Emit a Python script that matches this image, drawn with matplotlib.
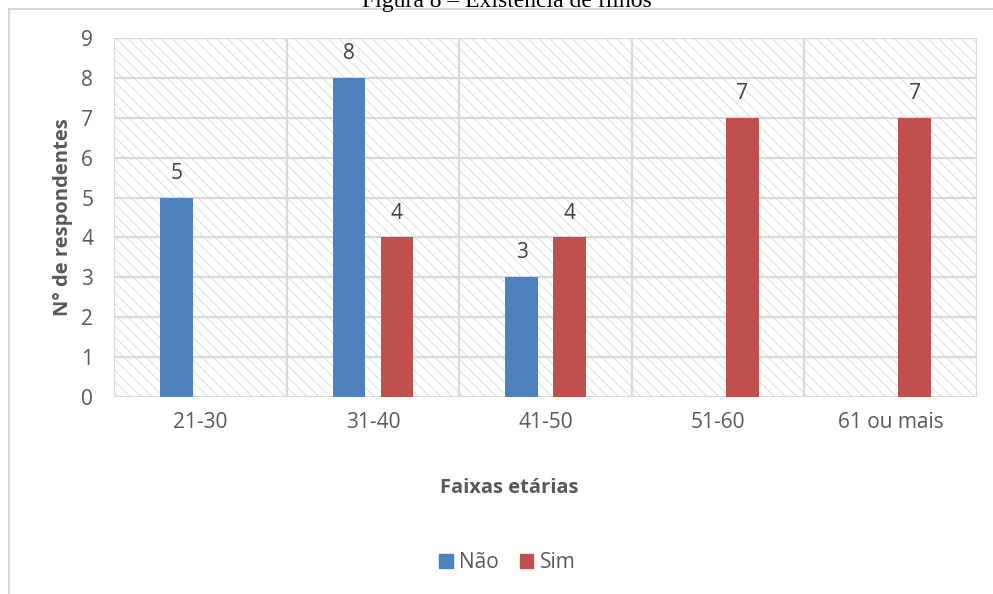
import matplotlib.pyplot as plt
import numpy as np
from matplotlib.patches import Rectangle
from matplotlib.lines import Line2D

faixas = ["21-30", "31-40", "41-50", "51-60", "61 ou mais"]
nao = [5, 8, 3, 0, 0]
sim = [0, 4, 4, 7, 7]

azul = "#4F81BD"
vermelho = "#C0504D"
cinza = "#595959"

plt.rcParams["font.family"] = ["Open Sans", "DejaVu Sans"]
plt.rcParams["hatch.linewidth"] = 0.6

fig = plt.figure(figsize=(9.93, 5.94), dpi=100)
ax = fig.add_axes([0.1148, 0.3316, 0.8692, 0.6044])

# fundo hachurado
ax.add_patch(Rectangle((0, 0), 1, 1, transform=ax.transAxes, facecolor="white",
                       edgecolor="#d8d8d8", linewidth=0, hatch="\\\\\\", zorder=0))

x = np.arange(len(faixas))
larg = 0.19
desl = 0.139
for i in x:
    if nao[i] > 0:
        ax.bar(i - desl, nao[i], larg, color=azul, zorder=3)
        ax.text(i - desl, nao[i] + 0.35, str(nao[i]), ha="center", va="bottom",
                fontsize=15, color="#404040")
    if sim[i] > 0:
        ax.bar(i + desl, sim[i], larg, color=vermelho, zorder=3)
        ax.text(i + desl, sim[i] + 0.35, str(sim[i]), ha="center", va="bottom",
                fontsize=15, color="#404040")

ax.set_xlim(-0.5, len(faixas) - 0.5)
ax.set_ylim(0, 9)
ax.set_yticks(range(10))
ax.set_xticks(x)
ax.set_xticklabels(faixas)
ax.tick_params(length=0, labelsize=15, colors=cinza)
ax.tick_params(axis="y", pad=15)
ax.tick_params(axis="x", pad=11)

# grade
for y in range(10):
    ax.axhline(y, color="#d9d9d9", lw=1.6, zorder=1)
for xb in np.arange(-0.5, len(faixas), 1):
    ax.axvline(xb, color="#d9d9d9", lw=1.6, zorder=1)
for s in ax.spines.values():
    s.set_visible(False)

ax.set_ylabel("N° de respondentes", fontsize=14.5, fontweight="bold", color=cinza, labelpad=6)
fig.text(0.513, 1 - 488 / 594, "Faixas etárias", ha="center", va="center",
         fontsize=14.5, fontweight="bold", color=cinza)

# legenda
h = [Rectangle((0, 0), 1, 1, color=azul), Rectangle((0, 0), 1, 1, color=vermelho)]
fig.legend(h, ["Não", "Sim"], loc="center", bbox_to_anchor=(0.511, 1 - 563 / 594),
           ncol=2, frameon=False, fontsize=15, handlelength=0.65, handleheight=0.65,
           handletextpad=0.3, columnspacing=1.0, labelcolor=cinza)

# moldura do gráfico
fig.add_artist(Line2D([9 / 993, 9 / 993], [0, 1 - 9 / 594], color="#d0d0d0", lw=1.2))
fig.add_artist(Line2D([9 / 993, 1], [1 - 9 / 594, 1 - 9 / 594], color="#d0d0d0", lw=1.2))

fig.text(0.51, 1 - 7 / 594, "Figura 8 – Existência de filhos", ha="center", va="baseline",
         fontsize=17, family="Liberation Serif", color="black")

fig.savefig("out.png", dpi=100)
